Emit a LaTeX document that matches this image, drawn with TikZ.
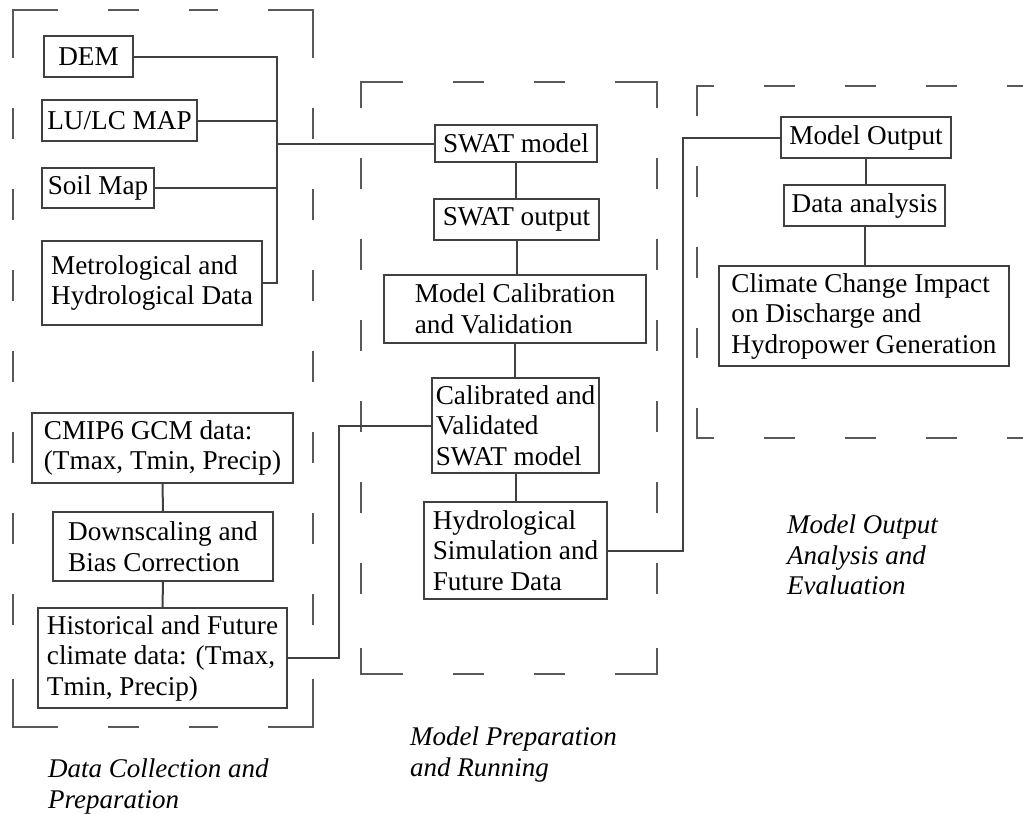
\documentclass[tikz,border=0pt]{standalone}
\usepackage{fontspec}
\setmainfont{Liberation Serif}
\newcommand\dashframe[6]{%
  \draw[frameline] ({#1+#5},#2) -- (#1,#2) -- (#1,{#2+#6});
  \draw[frameline] ({#3-#5},#2) -- (#3,#2) -- (#3,{#2+#6});
  \draw[frameline] ({#1+#5},#4) -- (#1,#4) -- (#1,{#4-#6});
  \draw[frameline] ({#3-#5},#4) -- (#3,#4) -- (#3,{#4-#6});
  \draw[framedash] ({#1+#5+50},#2) -- ({#3-#5-50},#2);
  \draw[framedash] ({#1+#5+50},#4) -- ({#3-#5-50},#4);
  \draw[framedash] (#1,{#2+#6+50}) -- (#1,{#4-#6-50});
  \draw[framedash] (#3,{#2+#6+50}) -- (#3,{#4-#6-50});
}
\tikzset{
  box/.style={draw=black!75, line width=2pt, inner sep=0pt, align=left,
    font={\fontsize{27.2}{30.5}\selectfont}},
  link/.style={draw=black!75, line width=2pt},
  frameline/.style={draw=black!65, line width=1.9pt},
  framedash/.style={frameline, dash pattern=on 31pt off 50pt},
  caption/.style={inner sep=0pt, align=left, anchor=north west,
    font={\fontsize{27}{30.5}\selectfont\itshape}}
}
\begin{document}
\begin{tikzpicture}[x=1pt,y=-1pt]
\path[use as bounding box] (0,0) rectangle (1023,814);
\clip (0,0) rectangle (1023,814);

% dashed group frames
\dashframe{13}{10}{313}{727}{45}{48}
\dashframe{361}{82}{657}{674}{42}{26}
\dashframe{697}{86}{1200}{438}{17}{30}

% data collection
\node[box, minimum width=89, minimum height=41] (dem) at (88.5,56.5) {DEM};
\node[box, minimum width=155, minimum height=41] (lulc) at (119.5,120.5) {LU/LC MAP};
\node[box, minimum width=112, minimum height=40] (soil) at (98,188) {Soil Map};
\node[box, minimum width=220, minimum height=84] (met) at (152,283) {Metrological and\\Hydrological Data};
\node[box, minimum width=261, minimum height=70] (cmip) at (162.5,448) {CMIP6 GCM data:\\(Tmax, Tmin, Precip)};
\node[box, minimum width=220, minimum height=69] (down) at (163,546.5) {Downscaling and\\Bias Correction};
\node[box, minimum width=249, minimum height=100] (hist) at (162.5,658) {Historical and Future\\climate data: (Tmax,\\Tmin, Precip)};

% model preparation
\node[box, minimum width=162, minimum height=37] (swat) at (516,143.5) {SWAT model};
\node[box, minimum width=165, minimum height=41] (swatout) at (516.5,219.5) {SWAT output};
\node[box, minimum width=262, minimum height=68] (calib) at (515,309) {Model Calibration\\and Validation};
\node[box, minimum width=167, minimum height=95] (calval) at (515.5,425.5) {Calibrated and\\Validated\\SWAT model};
\node[box, minimum width=183, minimum height=97] (hydro) at (515.5,550.5) {Hydrological\\Simulation and\\Future Data};

% model output
\node[box, minimum width=170, minimum height=41] (mo) at (866,137.5) {Model Output};
\node[box, minimum width=161, minimum height=41] (da) at (864.5,205.5) {Data analysis};
\node[box, minimum width=290, minimum height=100] (climate) at (864,316) {Climate Change Impact\\on Discharge and\\Hydropower Generation};

% connectors
\coordinate (bus) at (277,143.5);
\draw[link] (dem.east) -- (dem.east -| bus) -- (met.east -| bus) -- (met.east);
\draw[link] (lulc.east) -- (lulc.east -| bus);
\draw[link] (soil.east) -- (soil.east -| bus);
\draw[link] (bus) -- (swat.west);
\draw[link] (cmip.south) -- (down.north);
\draw[link] (down.south) -- (hist.north);
\draw[link] (swat.south) -- (swat.south |- swatout.north);
\draw[link] (swatout.south) -- (swatout.south |- calib.north);
\draw[link] (calib.south) -- (calib.south |- calval.north);
\draw[link] (calval.south) -- (calval.south |- hydro.north);
\draw[link] (hist.east) -- ++(51,0) |- (calval.west);
\draw[link] (hydro.east) -- ++(75,0) |- (mo.west);
\draw[link] (mo.south) -- (mo.south |- da.north);
\draw[link] (da.south) -- (da.south |- climate.north);

% captions
\node[caption] (cap1) at (48,759) {Data Collection and\\Preparation};
\node[caption] (cap2) at (410,727) {Model Preparation\\and Running};
\node[caption] (cap3) at (787,515) {Model Output\\Analysis and\\Evaluation};
\end{tikzpicture}
\end{document}
